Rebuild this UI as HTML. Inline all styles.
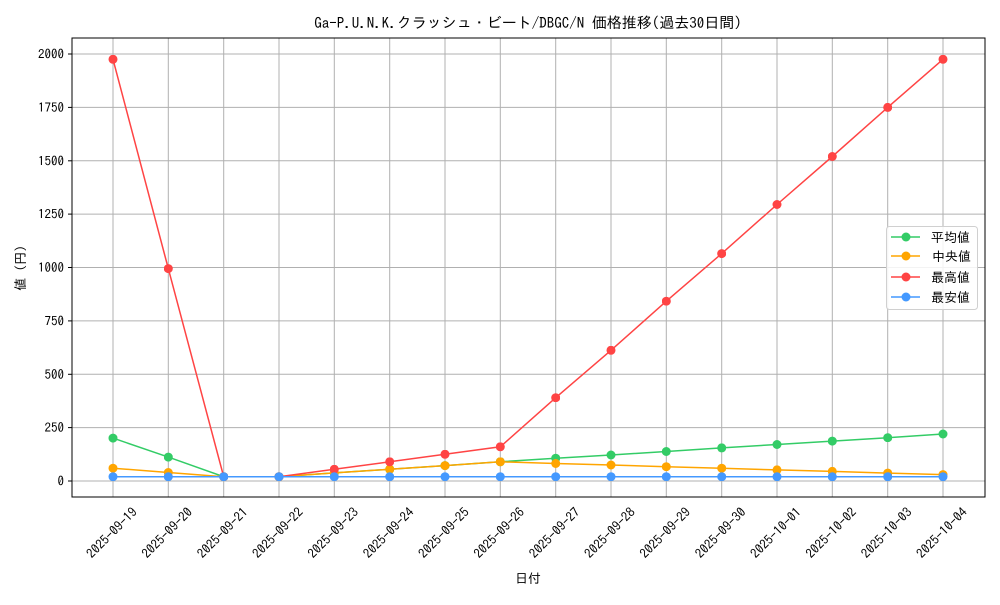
<!DOCTYPE html>
<html><head><meta charset="utf-8"><style>
body{margin:0;background:#fff}
svg text{font-family:"IPAGothic","Liberation Mono","Noto Sans CJK JP",monospace;fill:#000}
</style></head><body>
<svg width="1000" height="600" xmlns="http://www.w3.org/2000/svg">
<rect width="1000" height="600" fill="#fff"/>
<g stroke="#b0b0b0" stroke-width="1">
<line x1="72" x2="985" y1="481" y2="481"/><line x1="72" x2="985" y1="427.6" y2="427.6"/><line x1="72" x2="985" y1="374.3" y2="374.3"/><line x1="72" x2="985" y1="320.9" y2="320.9"/><line x1="72" x2="985" y1="267.5" y2="267.5"/><line x1="72" x2="985" y1="214.1" y2="214.1"/><line x1="72" x2="985" y1="160.8" y2="160.8"/><line x1="72" x2="985" y1="107.4" y2="107.4"/><line x1="72" x2="985" y1="54" y2="54"/>
<line x1="113" x2="113" y1="38" y2="497"/><line x1="168.3" x2="168.3" y1="38" y2="497"/><line x1="223.7" x2="223.7" y1="38" y2="497"/><line x1="279" x2="279" y1="38" y2="497"/><line x1="334.3" x2="334.3" y1="38" y2="497"/><line x1="389.7" x2="389.7" y1="38" y2="497"/><line x1="445" x2="445" y1="38" y2="497"/><line x1="500.3" x2="500.3" y1="38" y2="497"/><line x1="555.7" x2="555.7" y1="38" y2="497"/><line x1="611" x2="611" y1="38" y2="497"/><line x1="666.3" x2="666.3" y1="38" y2="497"/><line x1="721.7" x2="721.7" y1="38" y2="497"/><line x1="777" x2="777" y1="38" y2="497"/><line x1="832.3" x2="832.3" y1="38" y2="497"/><line x1="887.7" x2="887.7" y1="38" y2="497"/><line x1="943" x2="943" y1="38" y2="497"/>
</g>
<rect x="72" y="38" width="913" height="459" fill="none" stroke="#000" stroke-width="1"/>
<g stroke="#000"><line x1="68" x2="72" y1="481" y2="481"/><line x1="68" x2="72" y1="427.6" y2="427.6"/><line x1="68" x2="72" y1="374.3" y2="374.3"/><line x1="68" x2="72" y1="320.9" y2="320.9"/><line x1="68" x2="72" y1="267.5" y2="267.5"/><line x1="68" x2="72" y1="214.1" y2="214.1"/><line x1="68" x2="72" y1="160.8" y2="160.8"/><line x1="68" x2="72" y1="107.4" y2="107.4"/><line x1="68" x2="72" y1="54" y2="54"/></g>
<g font-size="13" text-anchor="end">
<text x="64" y="485.5">0</text><text x="64" y="432">250</text><text x="64" y="378.8">500</text><text x="64" y="325.4">750</text><text x="64" y="272">1000</text><text x="64" y="218.6">1250</text><text x="64" y="165.3">1500</text><text x="64" y="111.9">1750</text><text x="64" y="58.5">2000</text>
</g>
<g font-size="13" text-anchor="middle">
<text transform="translate(115,536) rotate(-45)">2025-09-19</text>
<text transform="translate(170.3,536) rotate(-45)">2025-09-20</text>
<text transform="translate(225.7,536) rotate(-45)">2025-09-21</text>
<text transform="translate(281,536) rotate(-45)">2025-09-22</text>
<text transform="translate(336.3,536) rotate(-45)">2025-09-23</text>
<text transform="translate(391.7,536) rotate(-45)">2025-09-24</text>
<text transform="translate(447,536) rotate(-45)">2025-09-25</text>
<text transform="translate(502.3,536) rotate(-45)">2025-09-26</text>
<text transform="translate(557.7,536) rotate(-45)">2025-09-27</text>
<text transform="translate(613,536) rotate(-45)">2025-09-28</text>
<text transform="translate(668.3,536) rotate(-45)">2025-09-29</text>
<text transform="translate(723.7,536) rotate(-45)">2025-09-30</text>
<text transform="translate(779,536) rotate(-45)">2025-10-01</text>
<text transform="translate(834.3,536) rotate(-45)">2025-10-02</text>
<text transform="translate(889.7,536) rotate(-45)">2025-10-03</text>
<text transform="translate(945,536) rotate(-45)">2025-10-04</text>
</g>
<text x="528" y="583" font-size="13" text-anchor="middle">日付</text>
<text transform="translate(25,268) rotate(-90)" font-size="13" text-anchor="middle">値 (円)</text>
<text x="528" y="28" font-size="15" text-anchor="middle">Ga-P.U.N.K.クラッシュ・ビート/DBGC/N 価格推移(過去30日間)</text>
<defs>
<polyline id="pa" points="113,438.1 168.3,457.1 223.7,476.7 279,476.7 334.3,472.9 389.7,469.3 445,465.6 500.3,461.8 555.7,458.2 611,455 666.3,451.5 721.7,447.9 777,444.5 832.3,441.1 887.7,437.7 943,434"/>
<polyline id="pm" points="113,468.2 168.3,472.5 223.7,476.7 279,476.7 334.3,472.9 389.7,469.3 445,465.6 500.3,461.8 555.7,463.5 611,465 666.3,466.7 721.7,468.2 777,469.9 832.3,471.4 887.7,473.1 943,474.6"/>
<polyline id="px" points="113,59.3 168.3,268.6 223.7,476.7 279,476.7 334.3,469.3 389.7,461.8 445,454.3 500.3,446.8 555.7,397.7 611,350.3 666.3,301.2 721.7,253.6 777,204.5 832.3,156.5 887.7,107.4 943,59.3"/>
<polyline id="pn" points="113,476.7 168.3,476.7 223.7,476.7 279,476.7 334.3,476.7 389.7,476.7 445,476.7 500.3,476.7 555.7,476.7 611,476.7 666.3,476.7 721.7,476.7 777,476.7 832.3,476.7 887.7,476.7 943,476.7"/>
<marker id="ma" viewBox="0 0 10 10" refX="5" refY="5" markerWidth="9" markerHeight="9" markerUnits="userSpaceOnUse"><circle cx="5" cy="5" r="5" fill="#33cc66"/></marker>
<marker id="mm" viewBox="0 0 10 10" refX="5" refY="5" markerWidth="9" markerHeight="9" markerUnits="userSpaceOnUse"><circle cx="5" cy="5" r="5" fill="#ffa500"/></marker>
<marker id="mx" viewBox="0 0 10 10" refX="5" refY="5" markerWidth="9" markerHeight="9" markerUnits="userSpaceOnUse"><circle cx="5" cy="5" r="5" fill="#ff4444"/></marker>
<marker id="mn" viewBox="0 0 10 10" refX="5" refY="5" markerWidth="9" markerHeight="9" markerUnits="userSpaceOnUse"><circle cx="5" cy="5" r="5" fill="#4499ff"/></marker>
</defs>
<g fill="none" stroke-width="1.5">
<use href="#pa" stroke="#33cc66" marker-start="url(#ma)" marker-mid="url(#ma)" marker-end="url(#ma)"/>
<use href="#pm" stroke="#ffa500" marker-start="url(#mm)" marker-mid="url(#mm)" marker-end="url(#mm)"/>
<use href="#px" stroke="#ff4444" marker-start="url(#mx)" marker-mid="url(#mx)" marker-end="url(#mx)"/>
<use href="#pn" stroke="#4499ff" marker-start="url(#mn)" marker-mid="url(#mn)" marker-end="url(#mn)"/>
</g>
<rect x="886.5" y="226.5" width="91" height="83" rx="3" fill="#fff" fill-opacity="0.85" stroke="#d0d0d0"/>
<g stroke-width="1.5">
<line x1="891" x2="920" y1="237" y2="237" stroke="#33cc66"/><circle cx="906" cy="237" r="4.5" fill="#33cc66"/>
<line x1="891" x2="920" y1="256" y2="256" stroke="#ffa500"/><circle cx="906" cy="256" r="4.5" fill="#ffa500"/>
<line x1="891" x2="920" y1="277" y2="277" stroke="#ff4444"/><circle cx="906" cy="277" r="4.5" fill="#ff4444"/>
<line x1="891" x2="920" y1="297" y2="297" stroke="#4499ff"/><circle cx="906" cy="297" r="4.5" fill="#4499ff"/>
</g>
<g font-size="13">
<text x="931" y="242">平均値</text><text x="932" y="261">中央値</text><text x="931" y="282">最高値</text><text x="931" y="302">最安値</text>
</g>
</svg>
</body></html>
